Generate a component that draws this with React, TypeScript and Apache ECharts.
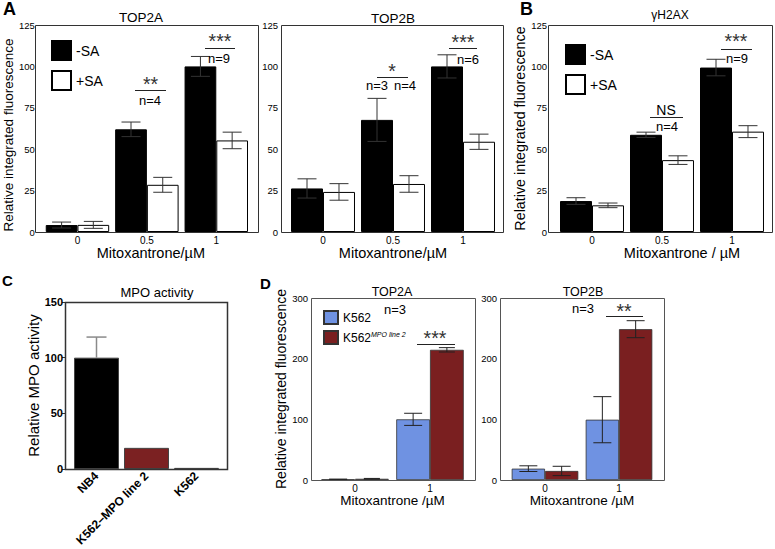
import React, { useEffect, useRef } from 'react';
import * as echarts from 'echarts';

const FONT = '"Liberation Sans", Arial, Helvetica, sans-serif';

// ---------- data ----------
const doses = ['0', '0.5', '1'];
const top2aNoSA = [4.2, 62, 100];
const top2aNoSAErr = [1.8, 4.4, 6];
const top2aSA = [4.3, 28.5, 55.3];
const top2aSAErr = [2.1, 4.5, 5];

const top2bNoSA = [26.3, 67.7, 100];
const top2bNoSAErr = [5.8, 13, 7];
const top2bSA = [24.2, 29, 54.5];
const top2bSAErr = [5, 5, 4.6];

const h2axNoSA = [18.7, 58.7, 99.3];
const h2axNoSAErr = [2, 1.6, 5];
const h2axSA = [16.1, 43.4, 60.6];
const h2axSAErr = [1.4, 2.6, 3.6];

const mpoCells = ['NB4', 'K562\u2013MPO line 2', 'K562'];
const mpoActivity = [100, 19, 1];
const mpoActivityErr = [18.5, 0, 0];

const dosesD = ['0', '1'];
const dTop2aK562 = [1, 100];
const dTop2aK562Err = [0.5, 10];
const dTop2aMpo = [2, 214.6];
const dTop2aMpoErr = [0.6, 3.6];
const dTop2bK562 = [18.7, 99.4];
const dTop2bK562Err = [4.7, 38];
const dTop2bMpo = [14.9, 248.6];
const dTop2bMpoErr = [7.7, 14];

// ---------- styles ----------
const BLUE = '#6f92e2';
const RED = '#7a1f20';
const mpoColors = ['#000000', '#7b2122', '#9a9a9a'];
const GAP_A = 0.086;
const GAP_C = 0.1;
const GAP_D = 0.1;

const pct = (g: number) => `${(g * 100).toFixed(1)}%`;

function bar(name: string, idx: number, data: any[], color: string, border: string, gap: number, bw = 1) {
  return {
    type: 'bar', name, xAxisIndex: idx, yAxisIndex: idx, data,
    barGap: '0%', barCategoryGap: pct(gap), silent: true,
    itemStyle: { color, borderColor: border, borderWidth: bw },
    emphasis: { disabled: true }, z: 2,
  };
}

function err(idx: number, vals: number[], errs: number[], side: number, gap: number, capHalf: number, color: string, upOnly = false, lw = 1) {
  return {
    type: 'custom', xAxisIndex: idx, yAxisIndex: idx, silent: true, z: 5,
    data: vals.map((v, i) => [i, v, errs[i]]),
    encode: { x: 0, y: 1 },
    renderItem: (_p: any, api: any) => {
      const i = api.value(0), v = api.value(1), e = api.value(2);
      if (!e) return { type: 'group', children: [] };
      const band = api.size([1, 0])[0];
      const bw = band * (1 - gap) / (side === 0 ? 1 : 2);
      const base = api.coord([i, v]);
      const cx = base[0] + side * bw / 2;
      const yT = api.coord([i, v + e])[1];
      const yB = upOnly ? base[1] : api.coord([i, Math.max(v - e, 0)])[1];
      const st = { stroke: color, lineWidth: lw };
      const ch: any[] = [
        { type: 'line', shape: { x1: cx, y1: yT, x2: cx, y2: yB }, style: st },
        { type: 'line', shape: { x1: cx - capHalf, y1: yT, x2: cx + capHalf, y2: yT }, style: st },
      ];
      if (!upOnly) ch.push({ type: 'line', shape: { x1: cx - capHalf, y1: yB, x2: cx + capHalf, y2: yB }, style: st });
      return { type: 'group', children: ch };
    },
  };
}

function txt(x: number, y: number, text: string, size: number, extra: any = {}) {
  return {
    type: 'text', x, y, z: 20, silent: true,
    style: {
      text, fill: extra.fill || '#000', fontSize: size, fontFamily: FONT,
      fontWeight: extra.weight || 'normal',
      align: extra.align || 'center', verticalAlign: 'middle',
      textAlign: extra.align || 'center', textVerticalAlign: 'middle',
      lineHeight: extra.lineHeight,
    },
  };
}
function stars(x: number, yc: number, text: string, size = 19.5) {
  return txt(x, yc, text, size, { fill: '#333', lineHeight: 10 });
}
function hline(x1: number, x2: number, y: number) {
  return { type: 'line', z: 20, silent: true, shape: { x1, y1: y + 0.5, x2, y2: y + 0.5 }, style: { stroke: '#222', lineWidth: 1 } };
}
function frame(x: number, y: number, w: number, h: number, stroke = '#333', lw = 1) {
  return { type: 'rect', z: 15, silent: true, shape: { x: x + 0.5, y: y + 0.5, width: w, height: h }, style: { fill: 'none', stroke, lineWidth: lw } };
}

function yAxis(idx: number, max: number, interval: number, offset: number, margin: number, extra: any = {}) {
  return {
    type: 'value', gridIndex: idx, min: 0, max, interval, offset,
    axisLine: { show: false }, axisTick: { show: false }, splitLine: { show: false },
    axisLabel: { fontSize: 9.5, color: '#000', margin, fontFamily: FONT },
    nameLocation: 'middle', nameRotate: 90,
    ...extra,
  };
}
function xAxis(idx: number, data: string[], extra: any = {}) {
  return {
    type: 'category', gridIndex: idx, data,
    axisLine: { show: false }, axisTick: { show: false },
    axisLabel: { fontSize: 10, color: '#000', margin: 3, fontFamily: FONT },
    nameLocation: 'middle',
    ...extra,
  };
}

export default function App() {
  const ref = useRef<HTMLDivElement>(null);
  useEffect(() => {
    if (!ref.current) return;
    const chart = echarts.init(ref.current, null, { renderer: 'svg' });
    const yTitle = (size: number) => ({ fontSize: size, color: '#000', fontFamily: FONT });
    const option: any = {
      animation: false,
      textStyle: { fontFamily: FONT },
      grid: [
        { left: 41, top: 25, width: 210, height: 207 },
        { left: 288, top: 25, width: 210, height: 207 },
        { left: 557, top: 25, width: 210, height: 207 },
        { left: 71.5, top: 302, width: 150, height: 167 },
        { left: 317.5, top: 298, width: 150, height: 182 },
        { left: 508, top: 298, width: 148, height: 182 },
      ],
      xAxis: [
        xAxis(0, doses, { name: 'Mitoxantrone/\u00b5M', nameGap: 9, nameTextStyle: { fontSize: 14.5, color: '#000', padding: [0, 0, 0, 8] } }),
        xAxis(1, doses, { name: 'Mitoxantrone/\u00b5M', nameGap: 9, nameTextStyle: { fontSize: 14.5, color: '#000' } }),
        xAxis(2, doses, { name: 'Mitoxantrone / \u00b5M', nameGap: 11, nameTextStyle: { fontSize: 14.5, color: '#000', padding: [0, 0, 0, 40] } }),
        xAxis(3, mpoCells, { axisLabel: { fontSize: 12, fontWeight: 'bold', color: '#000', rotate: 45, interval: 0, margin: 5, fontFamily: FONT } }),
        xAxis(4, dosesD, { name: 'Mitoxantrone /\u00b5M', nameGap: 11, nameTextStyle: { fontSize: 13.5, color: '#000' } }),
        xAxis(5, dosesD, { name: 'Mitoxantrone /\u00b5M', nameGap: 11, nameTextStyle: { fontSize: 13.5, color: '#000' } }),
      ],
      yAxis: [
        yAxis(0, 125, 25, 6, 2, { name: 'Relative integrated fluorescence', nameGap: 20, nameTextStyle: { ...yTitle(13.5), padding: [0, 13, 0, 0] } }),
        yAxis(1, 125, 25, 7, 3),
        yAxis(2, 125, 25, 9, 1, { name: 'Relative integrated fluorescence', nameGap: 18, nameTextStyle: yTitle(14.3) }),
        yAxis(3, 150, 50, 6.5, 2, {
          axisLabel: { fontSize: 11, fontWeight: 'bold', color: '#000', margin: 2, fontFamily: FONT },
          axisTick: { show: true, length: 3, lineStyle: { color: '#333', width: 1 } },
          name: 'Relative MPO activity', nameGap: 22, nameTextStyle: yTitle(15),
        }),
        yAxis(4, 300, 100, 6.5, 3, { name: 'Relative integrated fluorescence', nameGap: 19, nameTextStyle: yTitle(14) }),
        yAxis(5, 300, 100, 8, 3),
      ],
      legend: [
        {
          data: ['-SA', '+SA'], left: 46, top: 35, orient: 'vertical', icon: 'rect',
          itemWidth: 19, itemHeight: 19, itemGap: 9, selectedMode: false,
          textStyle: { fontSize: 14, color: '#000', fontFamily: FONT },
        },
        {
          data: ['-SA', '+SA'], left: 560, top: 39, orient: 'vertical', icon: 'rect',
          itemWidth: 19, itemHeight: 19, itemGap: 9, selectedMode: false,
          textStyle: { fontSize: 14, color: '#000', fontFamily: FONT },
        },
        {
          data: ['K562', 'K562 MPO line 2'], left: 318, top: 305, orient: 'vertical', icon: 'rect',
          itemWidth: 14, itemHeight: 13, itemGap: 5, selectedMode: false,
          formatter: (n: string) => (n === 'K562' ? '{a|K562}' : '{a|K562}{b|MPO line 2}'),
          textStyle: {
            fontSize: 12, color: '#000', fontFamily: FONT,
            rich: {
              a: { fontSize: 12, color: '#000', fontFamily: FONT, lineHeight: 14 },
              b: { fontSize: 7, fontStyle: 'italic', color: '#000', fontFamily: FONT, verticalAlign: 'top', lineHeight: 14 },
            },
          },
        },
      ],
      series: [
        bar('-SA', 0, top2aNoSA, '#000', '#000', GAP_A),
        bar('+SA', 0, top2aSA, '#fff', '#000', GAP_A),
        err(0, top2aNoSA, top2aNoSAErr, -1, GAP_A, 9.5, '#333'),
        err(0, top2aSA, top2aSAErr, 1, GAP_A, 9.5, '#333'),

        bar('-SA', 1, top2bNoSA, '#000', '#000', GAP_A),
        bar('+SA', 1, top2bSA, '#fff', '#000', GAP_A),
        err(1, top2bNoSA, top2bNoSAErr, -1, GAP_A, 9.5, '#333'),
        err(1, top2bSA, top2bSAErr, 1, GAP_A, 9.5, '#333'),

        bar('-SA', 2, h2axNoSA, '#000', '#000', GAP_A),
        bar('+SA', 2, h2axSA, '#fff', '#000', GAP_A),
        err(2, h2axNoSA, h2axNoSAErr, -1, GAP_A, 9.5, '#333'),
        err(2, h2axSA, h2axSAErr, 1, GAP_A, 9.5, '#333'),

        {
          ...bar('MPO', 3, mpoActivity.map((v, i) => ({ value: v, itemStyle: { color: mpoColors[i], borderColor: '#444' } })), '#000', '#444', GAP_C),
        },
        err(3, mpoActivity, mpoActivityErr, 0, GAP_C, 10, '#8a8a8a', true, 1.5),

        bar('K562', 4, dTop2aK562, BLUE, '#333', GAP_D, 0.8),
        bar('K562 MPO line 2', 4, dTop2aMpo, RED, '#333', GAP_D, 0.8),
        err(4, dTop2aK562, dTop2aK562Err, -1, GAP_D, 9, '#222'),
        err(4, dTop2aMpo, dTop2aMpoErr, 1, GAP_D, 8, '#222'),

        bar('K562', 5, dTop2bK562, BLUE, '#333', GAP_D, 0.8),
        bar('K562 MPO line 2', 5, dTop2bMpo, RED, '#333', GAP_D, 0.8),
        err(5, dTop2bK562, dTop2bK562Err, -1, GAP_D, 9, '#222'),
        err(5, dTop2bMpo, dTop2bMpoErr, 1, GAP_D, 9, '#222'),
      ],
      graphic: [
        frame(35, 25, 223, 207),
        frame(281, 25, 222, 207),
        frame(548, 25, 224, 207),
        frame(65, 302, 162, 167, '#333', 1.5),
        frame(311, 298, 164, 182, '#555'),
        frame(500, 298, 164, 182, '#555'),

        txt(3, 9, 'A', 18, { weight: 'bold', align: 'left' }),
        txt(520, 9, 'B', 18, { weight: 'bold', align: 'left' }),
        txt(2, 280, 'C', 15, { weight: 'bold', align: 'left' }),
        txt(260, 283, 'D', 15, { weight: 'bold', align: 'left' }),

        txt(141, 17, 'TOP2A', 13.5),
        txt(393, 18, 'TOP2B', 13.5),
        txt(670, 15, '\u03b3H2AX', 12),
        txt(157, 292, 'MPO activity', 13),
        txt(392, 292, 'TOP2A', 12.5),
        txt(583, 292, 'TOP2B', 12.5),

        hline(135, 166, 90), stars(150.5, 83.5, '**'), txt(150, 100, 'n=4', 13),
        hline(205, 235, 48), stars(220, 41.2, '***'), txt(219, 58.6, 'n=9', 13),

        hline(377, 408, 77), stars(392, 71, '*'), txt(377, 85, 'n=3', 13), txt(405, 85, 'n=4', 13),
        hline(449, 477, 48), stars(463, 41.5, '***'), txt(468, 59, 'n=6', 13),

        txt(666, 110, 'NS', 14), hline(650, 683, 117), txt(667, 126, 'n=4', 13),
        hline(721, 752, 49), stars(736, 41, '***'), txt(737, 58.8, 'n=9', 13),

        txt(395, 309, 'n=3', 13),
        hline(417, 455, 344), stars(435, 337.5, '***'),
        txt(583, 308, 'n=3', 13),
        hline(606, 643, 316), stars(624, 310.5, '**'),
      ],
    };
    chart.setOption(option);
    return () => chart.dispose();
  }, []);
  return (
    <div
      ref={ref}
      style={{ position: 'absolute', left: 0, top: 0, width: 775, height: 549, background: '#fff' }}
    />
  );
}
